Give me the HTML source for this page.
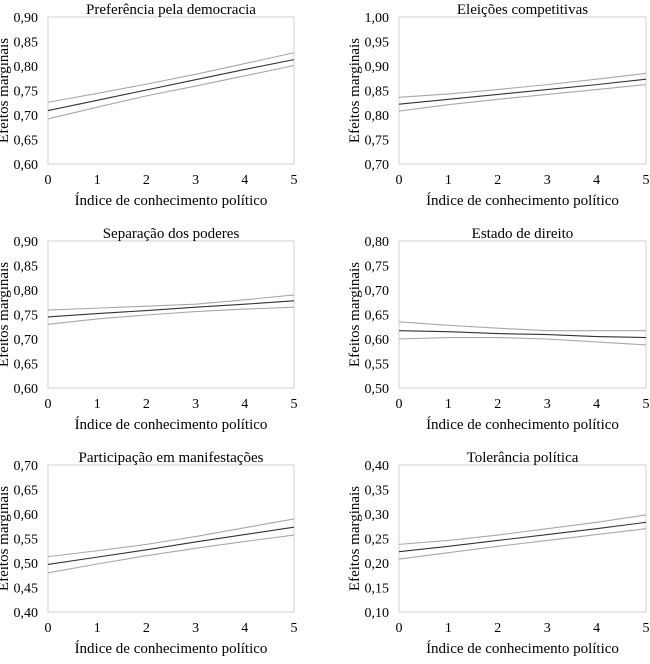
<!DOCTYPE html>
<html><head><meta charset="utf-8">
<style>
body{margin:0;background:#fff;}
svg{display:block;font-family:"Liberation Serif",serif;}
</style></head>
<body>
<svg id="chart" width="650" height="664"></svg>
<script>
const titles=["Preferência pela democracia","Eleições competitivas","Separação dos poderes","Estado de direito","Participação em manifestações","Tolerância política"];
const yMins=[0.60,0.70,0.60,0.50,0.40,0.10];
const xCats=[0,1,2,3,4,5];
const meanVals=[
[.709,.730,.751,.772,.793,.813],
[.822,.832,.842,.852,.862,.873],
[.745,.752,.758,.765,.771,.778],
[.617,.615,.611,.609,.605,.603],
[.497,.512,.527,.543,.558,.573],
[.223,.234,.246,.258,.270,.283]];
const upperVals=[
[.726,.744,.763,.783,.805,.827],
[.836,.843,.852,.862,.873,.885],
[.759,.763,.767,.771,.780,.790],
[.635,.628,.622,.617,.617,.617],
[.513,.525,.538,.554,.572,.590],
[.238,.246,.257,.270,.283,.298]];
const lowerVals=[
[.692,.716,.739,.759,.780,.801],
[.808,.821,.832,.842,.852,.862],
[.730,.741,.749,.756,.761,.765],
[.600,.603,.603,.600,.594,.588],
[.480,.498,.515,.530,.544,.557],
[.208,.221,.234,.246,.258,.270]];
const yStep=0.05, yCount=6;

const NS="http://www.w3.org/2000/svg";
const svg=document.getElementById('chart');
function mk(tag,attrs,parent,text){const e=document.createElementNS(NS,tag);for(const k in attrs)e.setAttribute(k,attrs[k]);if(text!==undefined)e.textContent=text;parent.appendChild(e);return e;}
for(let p=0;p<6;p++){
  const col=p%2,row=Math.floor(p/2);
  const L=col?399:48,R=col?646:294,T=17+row*224,B=164+row*224;
  const g=mk('g',{},svg);
  
  
  const yMax=yMins[p]+yStep*yCount;
  const xs=v=>L+(R-L)*v/5;
  const ys=v=>B-(B-T)*(v-yMins[p])/(yMax-yMins[p]);
  const box=mk('rect',{x:L,y:T,width:R-L,height:B-T,fill:'none',stroke:'#d0d0d0','stroke-width':1},g);
  
  
  const t=mk('text',{x:(L+R)/2,y:T-3,'text-anchor':'middle','font-size':15,fill:'#000'},g,titles[p]);
  
  
  for(let i=0;i<=yCount;i++){
    const v=yMins[p]+i*yStep;
    const tl=mk('text',{x:L-10,y:ys(v)+5,'text-anchor':'end','font-size':14,fill:'#000'},g,v.toFixed(2).replace('.',','));
    
    
  }
  xCats.forEach(c=>{
    const tl=mk('text',{x:xs(c),y:B+20,'text-anchor':'middle','font-size':14,fill:'#000'},g,String(c));
    
    
  });
  const xt=mk('text',{x:(L+R)/2,y:B+41,'text-anchor':'middle','font-size':15,fill:'#000'},g,'Índice de conhecimento político');
  
  
  const yx=L-40,yy=(T+B)/2;
  const yt=mk('text',{x:yx,y:yy,'text-anchor':'middle','font-size':15,fill:'#000',transform:`rotate(-90 ${yx} ${yy})`},g,'Efeitos marginais');
  
  
  const series=[[upperVals[p],'#a8a8a8','upper-ci-line'],[lowerVals[p],'#a8a8a8','lower-ci-line'],[meanVals[p],'#333','marginal-effect-line']];
  series.forEach(([vals,color,name])=>{
    const pts=xCats.map((c,i)=>xs(c)+','+ys(vals[i])).join(' ');
    const pl=mk('polyline',{points:pts,fill:'none',stroke:color,'stroke-width':1.1},g);
    
    
  });
}
</script>
</body></html>
